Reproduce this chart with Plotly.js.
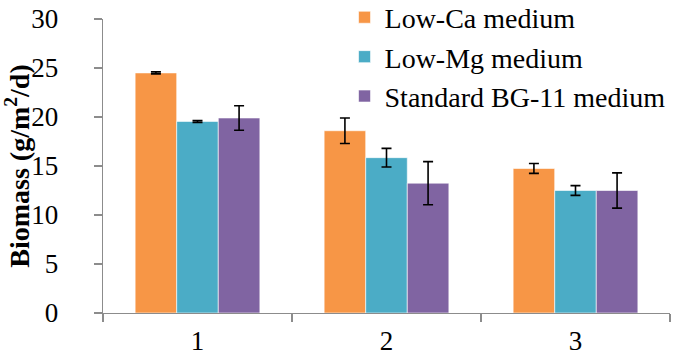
<!DOCTYPE html>
<html>
<head>
<meta charset="utf-8">
<script src="https://cdn.plot.ly/plotly-3.0.1.min.js"></script>
<style>html,body{margin:0;padding:0;background:#fff;}#chart{width:676px;height:357px;}</style>
</head>
<body>
<div id="chart"></div>
<script>
const categories = ['1', '2', '3'];
const seriesNames = ['Low-Ca medium', 'Low-Mg medium', 'Standard BG-11 medium'];
const lowCa = [24.5, 18.6, 14.75];
const lowCaErr = [0.1, 1.3, 0.5];
const lowMg = [19.55, 15.85, 12.5];
const lowMgErr = [0.1, 0.95, 0.5];
const standard = [19.9, 13.25, 12.5];
const standardErr = [1.25, 2.2, 1.8];
const yTicks = [0, 5, 10, 15, 20, 25, 30];

const colors = ['#F79646', '#4BACC6', '#8064A2'];
const values = [lowCa, lowMg, standard];
const errs = [lowCaErr, lowMgErr, standardErr];
const font = '"Liberation Serif", "Times New Roman", serif';

const traces = values.map((v, i) => ({
  type: 'bar',
  name: seriesNames[i],
  x: categories,
  y: v,
  legendgroup: 'g' + i,
  marker: {color: colors[i], line: {color: 'rgba(255,255,255,0.6)', width: 1}},
  error_y: {type: 'data', array: errs[i], visible: true, color: '#000', thickness: 1.6, width: 5}
}));

const layout = {
  width: 676, height: 357,
  margin: {l: 103, r: 6, t: 19, b: 44, autoexpand: false},
  paper_bgcolor: '#fff', plot_bgcolor: '#fff',
  barmode: 'group', bargap: 0.34, bargroupgap: 0,
  font: {family: font, color: '#000', size: 28},
  showlegend: true,
  legend: {x: 0.426, xanchor: 'left', y: 1.09, yanchor: 'top', bgcolor: 'rgba(255,255,255,0)',
           font: {family: font, size: 28, color: '#000'}, traceorder: 'grouped', tracegroupgap: 0,
           itemwidth: 30},
  xaxis: {type: 'category', range: [-0.5, 2.5], showline: true, linecolor: '#8c8c8c', linewidth: 1.3,
          ticks: 'outside', tickson: 'boundaries', ticklen: 8, tickcolor: '#8c8c8c', tickwidth: 1.3,
          showgrid: false, zeroline: false, tickfont: {family: font, size: 27}, ticklabelstandoff: 3},
  yaxis: {range: [0, 30], tickvals: yTicks, ticktext: yTicks.map(String), showline: true, linecolor: '#8c8c8c', linewidth: 1.3,
          ticks: 'outside', ticklen: 8, tickcolor: '#8c8c8c', tickwidth: 1.3, showgrid: false, zeroline: false,
          tickfont: {family: font, size: 27}, ticklabelstandoff: 30,
          title: {text: '<b>Biomass (g/m<sup>2</sup>/d)</b>', font: {family: font, size: 28}, standoff: 0}}
};

Plotly.newPlot('chart', traces, layout, {displayModeBar: false, staticPlot: true});
</script>
</body>
</html>
